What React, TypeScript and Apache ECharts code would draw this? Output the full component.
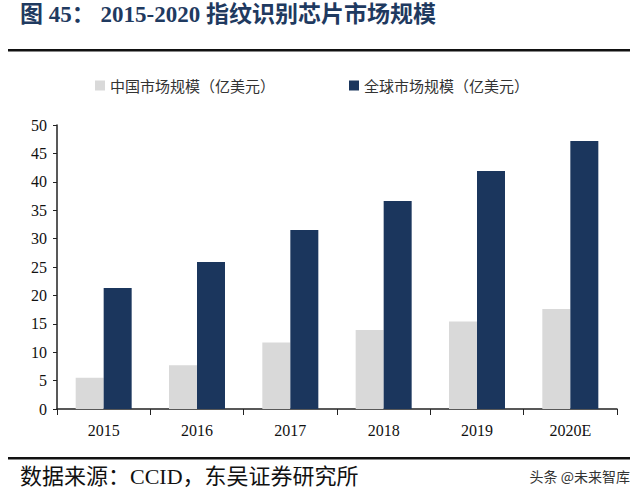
import React, { useEffect, useRef } from "react";
import * as echarts from "echarts";

const categories = ["2015", "2016", "2017", "2018", "2019", "2020E"];
const chinaValues = [5.5, 7.7, 11.7, 13.9, 15.4, 17.6];
const globalValues = [21.3, 25.9, 31.5, 36.6, 41.9, 47.2];
const yTicks = [0, 50, 5];
const seriesNames = ["中国市场规模（亿美元）", "全球市场规模（亿美元）"];
const titleText = "图 45： 2015-2020 指纹识别芯片市场规模";
const sourceText = "数据来源：CCID，东吴证券研究所";
const watermarkText = "头条 @未来智库";

export default function App() {
  const ref = useRef<HTMLDivElement>(null);
  useEffect(() => {
    if (!ref.current) return;
    const chart = echarts.init(ref.current, undefined, { renderer: "svg" });
    const serif = "'Liberation Serif', 'Noto Sans CJK SC', serif";
    chart.setOption({
      animation: false,
      backgroundColor: "#ffffff",
      graphic: [
        {
          type: "text",
          left: 20,
          top: 3,
          style: {
            text: titleText,
            fontSize: 23,
            fontWeight: "bold",
            fontFamily: serif,
            fill: "#1f3a60",
          },
        },
        {
          type: "rect",
          shape: { x: 8, y: 49, width: 622, height: 2.5 },
          style: { fill: "#111111" },
        },
        {
          type: "rect",
          shape: { x: 8, y: 457, width: 622, height: 2.5 },
          style: { fill: "#111111" },
        },
        {
          type: "text",
          left: 20,
          top: 465,
          style: {
            text: sourceText,
            fontSize: 22,
            fontFamily: serif,
            fill: "#111111",
          },
        },
        {
          type: "text",
          right: 10,
          top: 469,
          style: {
            text: watermarkText,
            fontSize: 14,
            fontFamily: "'Noto Sans CJK SC', sans-serif",
            fill: "#333333",
          },
        },
      ],
      legend: {
        top: 73,
        left: 90,
        itemGap: 74,
        itemWidth: 10,
        itemHeight: 10,
        icon: "rect",
        textStyle: {
          fontSize: 15,
          color: "#333333",
          fontFamily: "'Noto Sans CJK SC', serif",
        },
        data: seriesNames,
      },
      grid: { left: 57, right: 23, top: 125, bottom: 89 },
      xAxis: {
        type: "category",
        data: categories,
        axisLine: { lineStyle: { color: "#222222", width: 1.5 } },
        axisTick: { show: true, alignWithLabel: false, length: 6, lineStyle: { color: "#222222" } },
        axisLabel: { fontSize: 16, color: "#111111", fontFamily: serif, margin: 13 },
      },
      yAxis: {
        type: "value",
        min: yTicks[0],
        max: yTicks[1],
        interval: yTicks[2],
        axisLine: { show: true, lineStyle: { color: "#222222", width: 1.5 } },
        axisTick: { show: true, length: 4, lineStyle: { color: "#222222" } },
        splitLine: { show: false },
        axisLabel: { fontSize: 16, color: "#111111", fontFamily: serif, margin: 10 },
      },
      series: [
        {
          name: seriesNames[0],
          type: "bar",
          data: chinaValues,
          itemStyle: { color: "#d9d9d9" },
          barGap: "0%",
          barCategoryGap: "40%",
        },
        {
          name: seriesNames[1],
          type: "bar",
          data: globalValues,
          itemStyle: { color: "#1b365d" },
          barGap: "0%",
          barCategoryGap: "40%",
        },
      ],
    });
    return () => chart.dispose();
  }, []);
  return <div ref={ref} style={{ width: 640, height: 498, position: "absolute", left: 0, top: 0 }} />;
}
